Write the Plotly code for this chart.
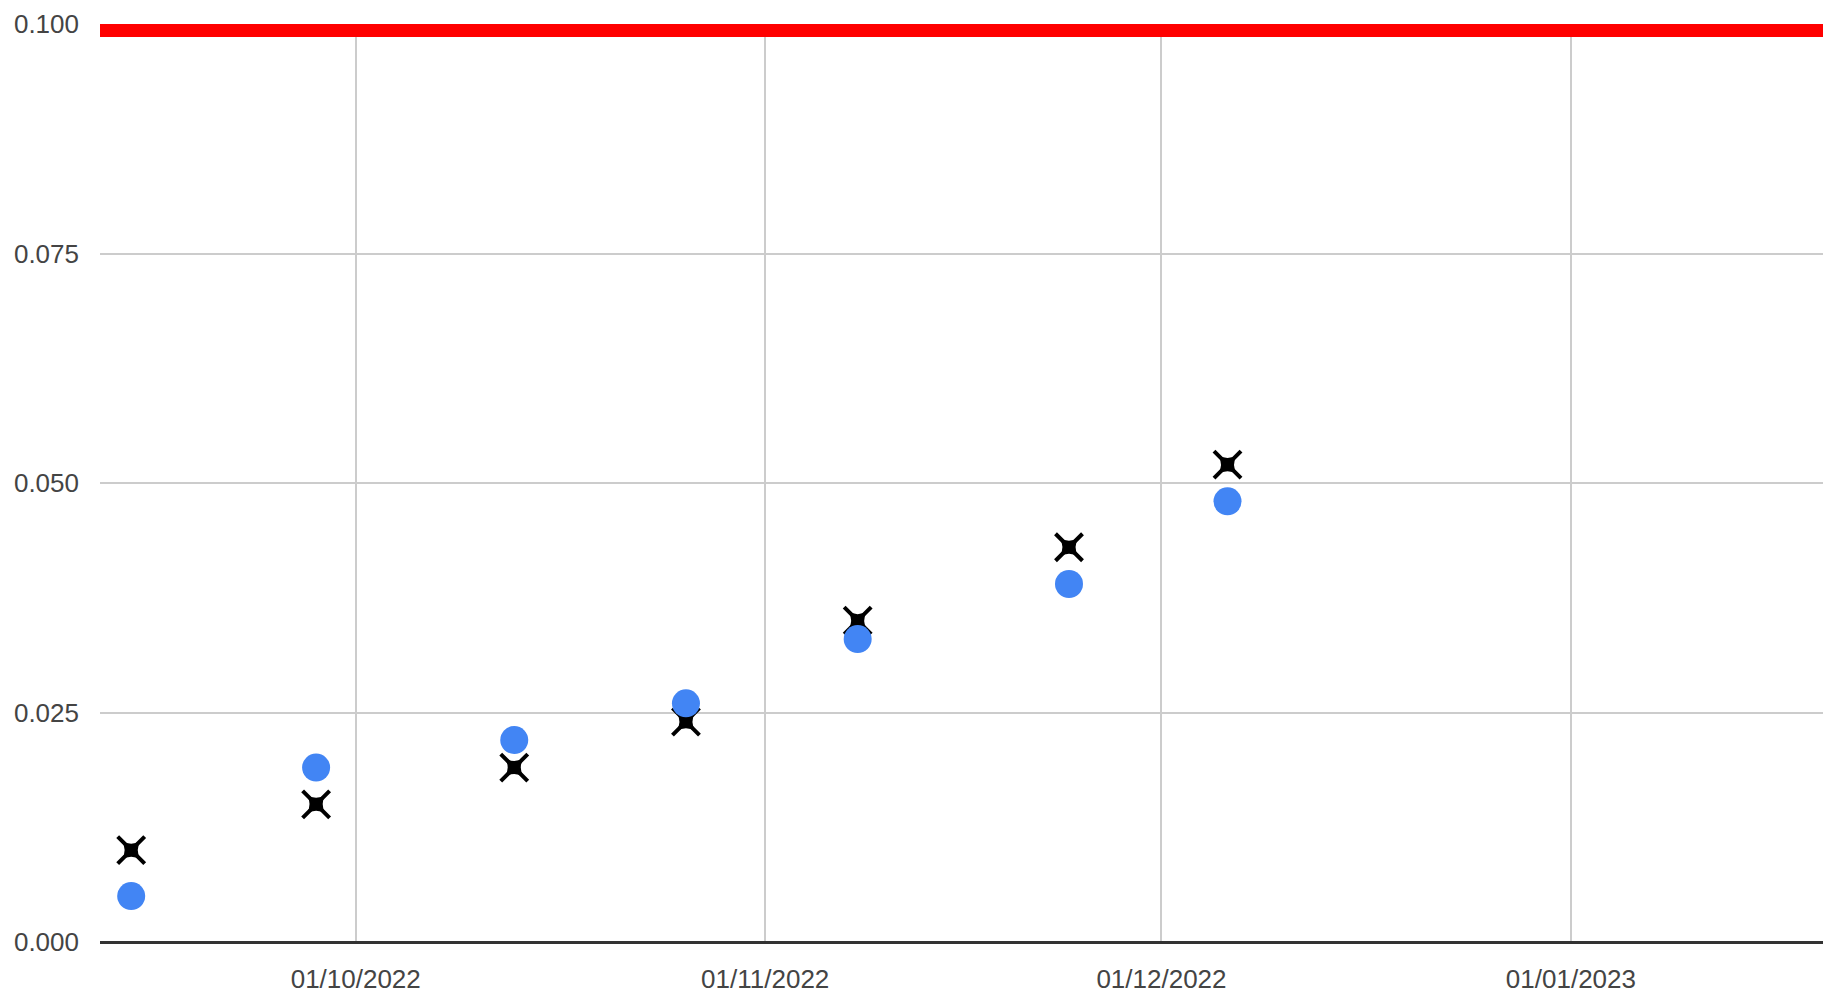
import plotly.graph_objects as go

dates = ["2022-09-14", "2022-09-28", "2022-10-13", "2022-10-26",
         "2022-11-08", "2022-11-24", "2022-12-06"]
blue_values = [0.005, 0.019, 0.022, 0.026, 0.033, 0.039, 0.048]
cross_values = [0.010, 0.015, 0.019, 0.024, 0.035, 0.043, 0.052]
limit_value = 0.1
x_range = ["2022-09-11 15:20", "2023-01-20 02:00"]
y_ticks = [0.0, 0.025, 0.05, 0.075, 0.1]
y_tick_labels = ["0.000", "0.025", "0.050", "0.075", "0.100"]
x_ticks = ["2022-10-01", "2022-11-01", "2022-12-01", "2023-01-01"]
x_tick_labels = ["01/10/2022", "01/11/2022", "01/12/2022", "01/01/2023"]

fig = go.Figure()

fig.add_trace(go.Scatter(
    x=x_range, y=[limit_value, limit_value], mode="lines",
    line=dict(color="#ff0000", width=26), showlegend=False, hoverinfo="skip",
))
# cross series: thin tapered arms + concave star body
fig.add_trace(go.Scatter(
    x=dates, y=cross_values, mode="markers",
    marker=dict(symbol="x-thin", size=27, color="#000000",
                line=dict(width=4, color="#000000")),
    showlegend=False, cliponaxis=False, hoverinfo="skip",
))
fig.add_trace(go.Scatter(
    x=dates, y=cross_values, mode="markers",
    marker=dict(symbol="star-diamond", angle=45, size=19, color="#000000",
                line=dict(width=0)),
    showlegend=False, cliponaxis=False,
))
fig.add_trace(go.Scatter(
    x=dates, y=blue_values, mode="markers",
    marker=dict(symbol="circle", size=28, color="#4285f4", line=dict(width=0)),
    showlegend=False, cliponaxis=False,
))

font = dict(family="Liberation Sans, Arial, sans-serif", size=26, color="#444444")

fig.update_layout(
    width=1823, height=996,
    margin=dict(l=100, r=0, t=23.5, b=53.6, pad=0),
    paper_bgcolor="white", plot_bgcolor="white",
    font=font,
    xaxis=dict(
        type="date", range=x_range, tickmode="array",
        tickvals=x_ticks, ticktext=x_tick_labels,
        showgrid=True, gridcolor="#cccccc", gridwidth=2,
        zeroline=False, showline=False, ticks="",
        ticklabelstandoff=19, tickfont=font,
    ),
    yaxis=dict(
        range=[0, 0.1], tickmode="array",
        tickvals=y_ticks, ticktext=y_tick_labels,
        showgrid=True, gridcolor="#cccccc", gridwidth=2,
        zeroline=True, zerolinecolor="#333333", zerolinewidth=3,
        showline=False, ticks="",
        ticklabelstandoff=20, tickfont=font,
    ),
)

fig.write_html(
    "out.html",
    config={"displayModeBar": False},
    post_script="document.body.style.margin='0px';document.body.style.overflow='hidden';",
)
